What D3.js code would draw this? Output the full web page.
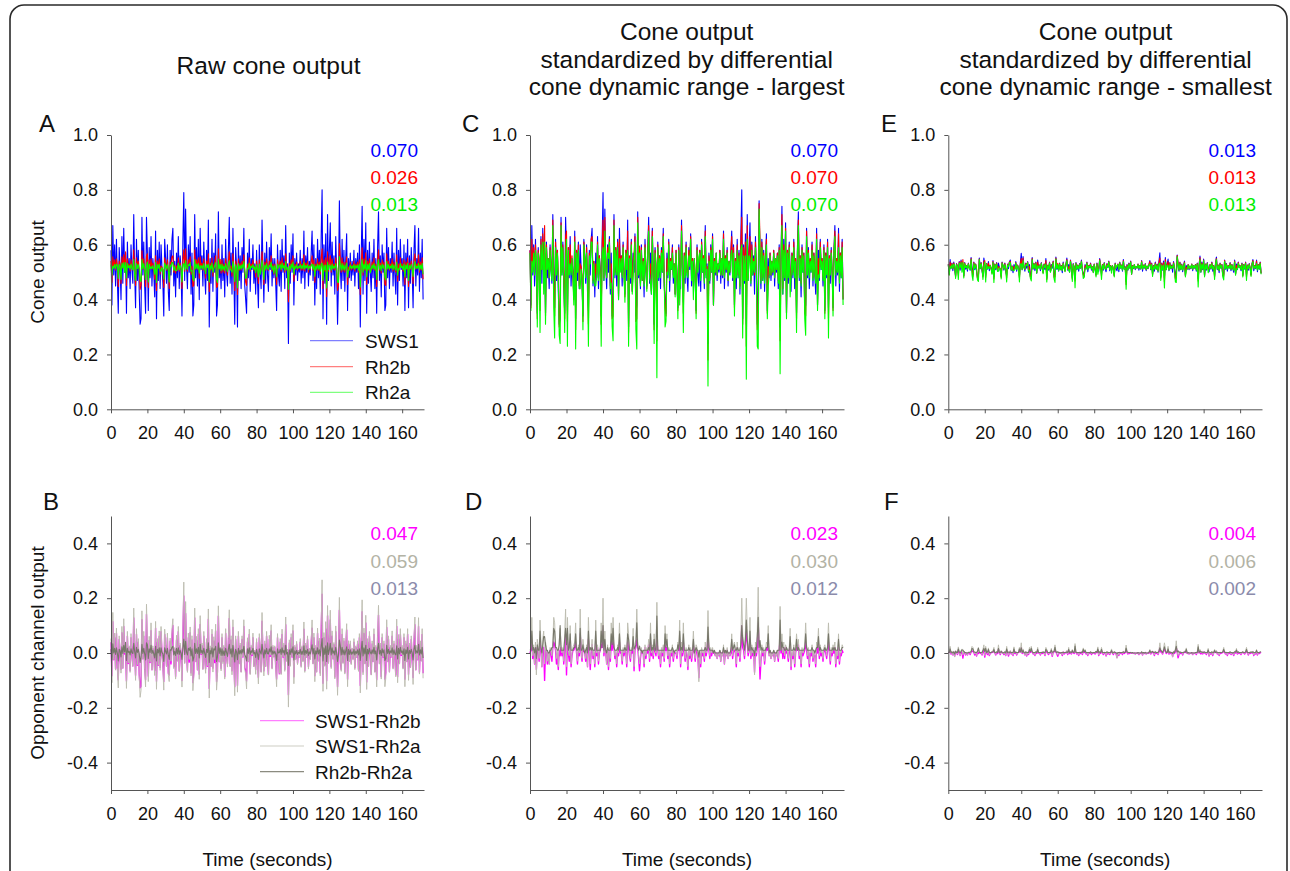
<!DOCTYPE html>
<html>
<head>
<meta charset="utf-8">
<script src="https://cdn.jsdelivr.net/npm/d3@7"></script>
<style>
  html, body { margin: 0; padding: 0; background: #fff; }
  svg { display: block; font-family: "Liberation Sans", Arial, sans-serif; }
</style>
</head>
<body>
<svg id="fig" width="1290" height="871"></svg>
<script>
// ---- data -------------------------------------------------------------
const sampleStep = 0.5;                       // seconds between samples
const timeTicks = [0, 20, 40, 60, 80, 100, 120, 140, 160];
const coneTicks = [0, 0.2, 0.4, 0.6, 0.8, 1.0];
const oppTicks = [-0.4, -0.2, 0, 0.2, 0.4];

const coneNames = ["SWS1", "Rh2b", "Rh2a"];
const oppNames = ["SWS1-Rh2b", "SWS1-Rh2a", "Rh2b-Rh2a"];

// dynamic range (spread) of each cone class, per column
const spreadRaw = [0.070, 0.026, 0.013];
const spreadLargest = [0.070, 0.070, 0.070];
const spreadSmallest = [0.013, 0.013, 0.013];
// spread of each opponent channel, per column
const oppSpreadRaw = [0.047, 0.059, 0.013];
const oppSpreadLargest = [0.023, 0.030, 0.012];
const oppSpreadSmallest = [0.004, 0.006, 0.002];

// SWS1 cone output
const sws1 = [
  .58,.38,.67,.49,.60,.45,.62,.47,.35,.59,.52,.40,.63,.46,.66,.50,.57,.35,.61,.48,
  .55,.44,.60,.51,.46,.71,.50,.37,.62,.47,.58,.43,.31,.33,.70,.49,.61,.45,.35,.70,
  .57,.36,.59,.48,.63,.45,.55,.50,.41,.65,.33,.58,.47,.61,.44,.60,.52,.46,.34,.62,
  .55,.46,.60,.43,.36,.58,.49,.62,.66,.45,.54,.41,.57,.48,.63,.44,.56,.51,.34,.61,
  .79,.47,.73,.52,.44,.60,.50,.63,.42,.57,.34,.38,.71,.48,.59,.45,.62,.40,.66,.51,
  .56,.45,.61,.49,.42,.58,.47,.69,.30,.55,.46,.62,.43,.57,.50,.64,.34,.38,.72,.48,
  .53,.44,.60,.47,.55,.41,.62,.50,.45,.58,.70,.46,.57,.42,.66,.49,.31,.59,.52,.30,
  .61,.47,.56,.44,.59,.50,.66,.45,.40,.35,.57,.48,.62,.43,.55,.51,.60,.46,.53,.42,
  .58,.47,.37,.60,.50,.44,.69,.52,.39,.57,.46,.61,.49,.43,.59,.51,.64,.45,.55,.48,
  .55,.46,.36,.60,.49,.45,.58,.43,.62,.50,.56,.44,.67,.48,.53,.24,.57,.46,.60,.50,
  .64,.38,.55,.49,.57,.47,.53,.50,.58,.46,.55,.48,.65,.44,.56,.50,.59,.45,.54,.49,
  .57,.65,.47,.60,.38,.55,.44,.62,.48,.58,.42,.63,.80,.33,.60,.46,.64,.31,.71,.47,
  .58,.68,.45,.61,.49,.56,.42,.63,.50,.31,.46,.76,.52,.44,.62,.47,.58,.43,.55,.64,
  .36,.55,.48,.57,.47,.54,.49,.58,.45,.55,.50,.57,.44,.60,.30,.56,.74,.42,.62,.47,
  .68,.35,.58,.46,.61,.50,.43,.57,.48,.62,.44,.55,.35,.59,.72,.47,.56,.41,.60,.50,
  .57,.36,.38,.66,.48,.59,.44,.55,.50,.61,.45,.57,.49,.42,.66,.38,.58,.47,.62,.51,
  .55,.45,.60,.36,.57,.48,.62,.37,.56,.46,.59,.50,.37,.58,.67,.45,.55,.49,.66,.43,.57,.48,.62,.40
];

// SWS1-Rh2b opponent signal on the largest-range scale
const oppSb = [
  .00,.01,.05,-.02,.01,-.04,.02,-.06,.02,.01,-.03,.04,.01,-.05,.02,.02,-.10,.01,.01,-.04,
  .00,-.04,.01,.00,-.03,.02,.04,.03,.01,-.04,.00,-.06,.01,-.01,.02,-.01,.01,-.04,.02,.07,
  -.08,.04,.00,-.03,.03,-.05,-.01,.01,.01,.02,.04,.00,-.04,.01,-.01,.07,.00,-.03,.02,.01,
  .00,-.03,.01,-.05,.05,.01,-.06,.00,.03,-.02,.00,-.05,.04,-.01,.02,-.04,.00,.01,.03,.02,
  .10,-.01,.03,.00,-.04,.01,-.06,.01,-.03,.04,.01,.04,.02,-.02,.00,-.05,.01,-.01,.04,.00,
  .00,-.04,.01,-.01,.01,.00,-.05,.04,.02,-.01,-.03,.01,.00,.03,-.065,.01,.02,.05,.02,-.02,
  -.065,-.02,.01,.00,.00,-.05,.02,-.02,.01,.00,.03,-.03,.04,-.01,.01,-.02,.02,.01,-.01,.05,
  .01,-.02,.00,-.05,.01,-.01,.02,-.03,.03,.01,.02,-.02,.01,-.05,.00,-.01,.01,-.03,.00,.00,
  .00,-.02,.01,.01,.04,-.05,.02,-.01,.04,.00,-.03,.01,-.01,-.06,.01,-.02,.01,-.03,.00,.03,
  .00,-.03,.01,.01,-.02,-.09,.00,-.05,.01,-.01,.00,-.03,.02,-.01,.01,.06,.01,-.02,.01,-.01,
  .01,.00,.00,-.01,.00,-.02,.00,-.01,.00,-.03,.00,-.01,.01,-.04,.00,-.01,.01,-.02,.00,-.01,
  .00,.02,-.02,.01,.01,.00,-.05,.02,-.01,.01,-.03,.02,.10,.02,.01,-.02,.03,.08,.04,-.01,
  .01,.05,-.02,.01,-.01,.01,-.07,.02,-.01,.02,.11,.01,-.095,-.03,.01,-.01,.01,-.04,.00,.02,
  .01,.03,-.01,.00,-.02,.00,-.01,.00,-.03,.00,-.01,.00,-.03,.01,.05,.00,.03,-.02,.02,-.02,
  .02,.00,.00,-.03,.01,.03,-.06,.00,-.02,.01,-.05,.00,.02,.01,.03,-.02,.00,-.05,.01,-.01,
  .00,.01,.04,.01,-.02,.01,-.05,.00,-.01,.01,-.03,.00,-.01,-.05,.02,.00,.03,-.02,.01,-.01,
  .00,-.03,.01,.01,.00,-.02,.01,.04,.00,-.04,.01,-.01,.01,.00,.02,-.05,.00,-.02,.02,-.04,.00,-.01,.01,.00
];

// SWS1-Rh2a opponent signal on the largest-range scale
const oppSa = [
  .01,.02,.13,-.01,.03,-.04,.04,-.08,.05,.02,-.02,.12,.03,-.05,.05,.08,-.04,.04,.02,-.03,
  .00,-.04,.02,.01,-.01,.04,.13,.11,.03,-.02,.01,-.05,.04,.09,.03,.00,.02,-.03,.07,.16,
  -.05,.13,.01,-.01,.10,-.04,.00,.02,.03,.04,.11,.01,-.03,.03,.00,.16,.01,-.02,.05,.02,
  .00,-.02,.03,-.05,.13,.02,-.04,.01,.05,-.01,.01,-.04,.12,.00,.03,-.03,.01,.02,.11,.04,
  .20,.00,.08,.01,-.04,.03,-.05,.02,-.02,.11,.04,.13,.04,-.01,.01,-.04,.03,.00,.11,.01,
  .01,-.03,.02,.00,.03,.01,-.04,.11,.07,.00,-.02,.02,.01,.09,-.05,.03,.05,.16,.04,-.01,
  -.04,-.01,.02,.00,.01,-.04,.03,-.01,.02,.01,.05,-.02,.11,.00,.03,-.01,.07,.02,.00,.185,
  .02,-.01,.01,-.04,.02,.00,.03,-.02,.10,.03,.07,-.01,.02,-.04,.01,.00,.03,-.02,.00,.01,
  .01,-.01,.04,.02,.12,-.04,.04,.00,.11,.01,-.02,.02,.00,-.05,.03,-.01,.02,-.02,.01,.08,
  .00,-.02,.03,.02,-.01,-.105,.01,-.04,.02,.00,.01,-.02,.04,.00,.02,.155,.03,-.01,.02,.00,
  .02,.00,.01,-.01,.00,-.02,.00,-.01,.01,-.03,.00,-.01,.03,-.04,.01,-.01,.02,-.02,.00,-.01,
  .01,.07,-.01,.03,.04,.01,-.04,.04,.00,.02,-.02,.05,.20,.07,.04,-.01,.08,.20,.09,.00,
  .02,.13,-.01,.03,.00,.02,-.08,.04,.00,.08,.24,.03,-.05,-.02,.03,.00,.02,-.03,.01,.04,
  .03,.10,-.01,.01,-.02,.00,-.01,.01,-.03,.00,-.01,.01,-.02,.02,.17,.01,.07,.00,.04,-.01,
  .03,.02,.01,-.02,.02,.09,-.05,.01,-.01,.03,-.04,.01,.07,.02,.05,-.01,.01,-.04,.02,.00,
  .01,.03,.11,.03,-.01,.02,-.04,.01,.00,.03,-.02,.01,-.01,-.04,.04,.02,.09,-.01,.03,.00,
  .01,-.02,.02,.03,.01,-.01,.03,.11,.01,-.03,.02,.00,.03,.01,.04,-.04,.01,-.01,.07,-.03,.01,.00,.03,.02
];

// ---- derived series ---------------------------------------------------
const times = sws1.map((_, i) => i * sampleStep);

// cone outputs standardized to the largest dynamic range
const largest = [
  sws1,
  sws1.map((v, i) => v - oppSb[i]),
  sws1.map((v, i) => v - oppSa[i])
];
// all cone traces are rescaled about the common SWS1 operating level
const pivot = d3.mean(sws1);

function rescale(spread) {
  return largest.map((s, j) =>
    s.map(v => pivot + (v - pivot) * spread[j] / spreadLargest[j]));
}
const raw = rescale(spreadRaw);
const smallest = rescale(spreadSmallest);

function opponents(c) {
  return [
    c[0].map((v, i) => v - c[1][i]),
    c[0].map((v, i) => v - c[2][i]),
    c[1].map((v, i) => v - c[2][i])
  ];
}

// ---- styling ----------------------------------------------------------
const coneColors = ["#0000ff", "#ff0000", "#00ff00"];
const coneLabelColors = ["#0000ff", "#ff0000", "#00ee00"];
const oppColors = ["#ff00ff", "#bdbdb0", "#77776a"];
const oppLabelColors = ["#ff00ff", "#b3b3a5", "#8b8bab"];

const columns = [
  { x0: 111, x1: 424, titleX: 268.5, title: ["Raw cone output"],
    letters: ["A", "B"], letterX: [39, 43],
    cone: raw, coneSpread: spreadRaw, opp: opponents(raw), oppSpread: oppSpreadRaw, legend: true },
  { x0: 530, x1: 844, titleX: 686.7,
    title: ["Cone output", "standardized by differential", "cone dynamic range - largest"],
    letters: ["C", "D"], letterX: [462, 465],
    cone: largest, coneSpread: spreadLargest, opp: opponents(largest), oppSpread: oppSpreadLargest, legend: false },
  { x0: 948.3, x1: 1262, titleX: 1105.6,
    title: ["Cone output", "standardized by differential", "cone dynamic range - smallest"],
    letters: ["E", "F"], letterX: [881, 884],
    cone: smallest, coneSpread: spreadSmallest, opp: opponents(smallest), oppSpread: oppSpreadSmallest, legend: false }
];

const rows = [
  { y0: 135, y1: 409.3, domain: [0, 1.0], ticks: coneTicks, letterY: 131.5,
    key: "cone", colors: coneColors, labelColors: coneLabelColors, names: coneNames,
    widths: [1.1, 1.1, 1.1], opacities: [1, 1, 1],
    labelY: [157, 184, 211], legendY: [340.7, 366.7, 392.3], legendX: [310, 353, 365],
    yTitle: "Cone output", yTitleY: 272 },
  { y0: 516, y1: 790, domain: [-0.5, 0.5], ticks: oppTicks, letterY: 510,
    key: "opp", colors: oppColors, labelColors: oppLabelColors, names: oppNames,
    widths: [1.4, 1.0, 1.1], opacities: [1, 0.95, 1],
    labelY: [540, 567.5, 595], legendY: [720.7, 746, 771.7], legendX: [260, 304, 315],
    yTitle: "Opponent channel output", yTitleY: 653 }
];

const svg = d3.select("#fig");
const FONT = '"Liberation Sans", Arial, sans-serif';

// outer frame
svg.append("rect")
  .attr("x", 10).attr("y", 5).attr("width", 1277).attr("height", 900)
  .attr("rx", 14).attr("fill", "none").attr("stroke", "#2a2a2a").attr("stroke-width", 1.6);

columns.forEach((col, ci) => {
  // column title
  const tt = svg.append("text")
    .attr("x", col.titleX).attr("text-anchor", "middle")
    .attr("font-size", 24.5).attr("fill", "#111");
  const base = col.title.length === 1 ? [74] : [40, 67.5, 95];
  col.title.forEach((line, k) => {
    tt.append("tspan").attr("x", col.titleX).attr("y", base[k]).text(line);
  });

  rows.forEach((row, ri) => {
    const x = d3.scaleLinear().domain([0, 172]).range([col.x0, col.x1]);
    const y = d3.scaleLinear().domain(row.domain).range([row.y1, row.y0]);
    const series = col[row.key];
    const spreads = row.key === "cone" ? col.coneSpread : col.oppSpread;

    // traces
    const line = d3.line().x((d, i) => x(times[i])).y(d => y(d));
    series.forEach((s, j) => {
      svg.append("path")
        .attr("d", line(s))
        .attr("fill", "none")
        .attr("stroke", row.colors[j])
        .attr("stroke-width", row.widths[j])
        .attr("stroke-opacity", row.opacities[j])
        .attr("stroke-linejoin", "round");
    });

    // axes
    const gy = svg.append("g")
      .attr("transform", `translate(${col.x0},0)`)
      .call(d3.axisLeft(y).tickValues(row.ticks).tickFormat(d => d.toFixed(1))
        .tickSize(4).tickSizeOuter(0).tickPadding(9));
    const gx = svg.append("g")
      .attr("transform", `translate(0,${row.y1})`)
      .call(d3.axisBottom(x).tickValues(timeTicks).tickFormat(d => String(d))
        .tickSize(4).tickSizeOuter(0).tickPadding(13));
    [gy, gx].forEach(g => {
      g.attr("font-family", FONT).attr("font-size", 18);
      g.select(".domain").attr("stroke", "#555").attr("stroke-width", 1);
      g.selectAll(".tick line").attr("stroke", "#555");
      g.selectAll(".tick text").attr("fill", "#111");
    });

    // x-axis title on the bottom row
    if (ri === 1) {
      svg.append("text")
        .attr("x", (col.x0 + col.x1) / 2).attr("y", 866)
        .attr("text-anchor", "middle").attr("font-size", 19).attr("fill", "#111")
        .text("Time (seconds)");
    }

    // panel letter
    svg.append("text")
      .attr("x", col.letterX[ri]).attr("y", row.letterY)
      .attr("font-size", 24).attr("fill", "#111")
      .text(col.letters[ri]);

    // spread labels
    spreads.forEach((v, j) => {
      svg.append("text")
        .attr("x", col.x1 - 6).attr("y", row.labelY[j])
        .attr("text-anchor", "end").attr("font-size", 19)
        .attr("fill", row.labelColors[j])
        .text(d3.format(".3f")(v));
    });

    // legend and y-axis title in the first column
    if (col.legend) {
      row.names.forEach((name, j) => {
        svg.append("line")
          .attr("x1", row.legendX[0]).attr("x2", row.legendX[1])
          .attr("y1", row.legendY[j]).attr("y2", row.legendY[j])
          .attr("stroke", row.colors[j]).attr("stroke-width", 1.3)
          .attr("stroke-opacity", j === 2 && row.key === "opp" ? 0.85 : 0.5);
        svg.append("text")
          .attr("x", row.legendX[2]).attr("y", row.legendY[j] + 6.8)
          .attr("font-size", 19).attr("fill", "#111")
          .text(name);
      });
      svg.append("text")
        .attr("transform", `translate(43.5,${row.yTitleY}) rotate(-90)`)
        .attr("text-anchor", "middle").attr("font-size", 19).attr("fill", "#111")
        .text(row.yTitle);
    }
  });
});
</script>
</body>
</html>
